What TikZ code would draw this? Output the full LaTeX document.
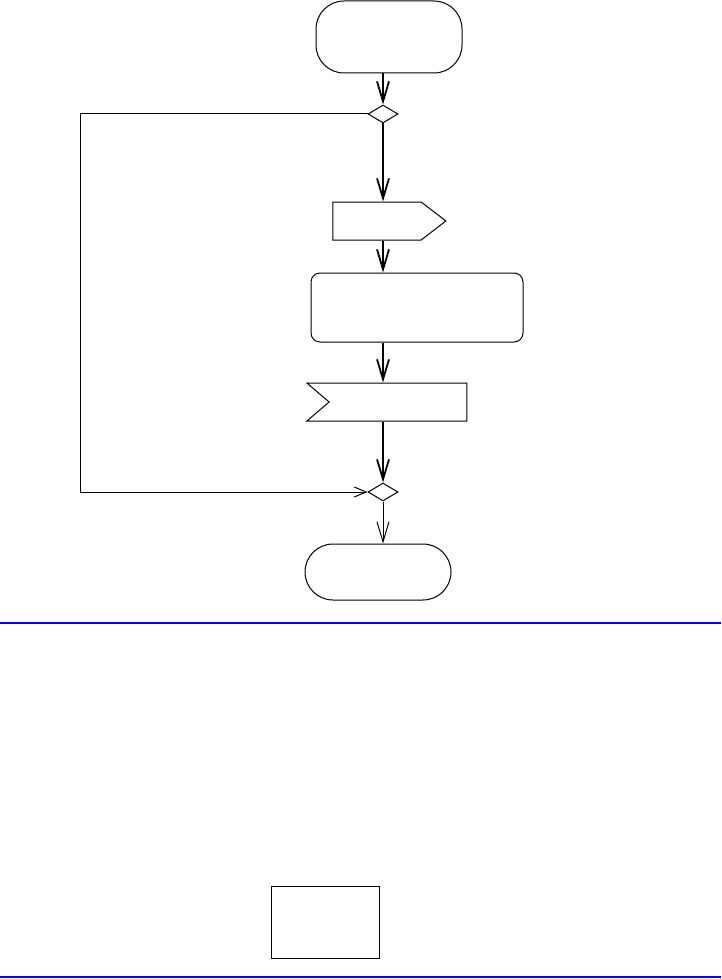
\documentclass[tikz,border=0pt]{standalone}
\usetikzlibrary{arrows.meta, positioning, shapes.geometric, shapes.symbols}

\begin{document}
\begin{tikzpicture}[
    x=1pt, y=-1pt,
    terminal/.style={draw, line width=1pt, rounded corners=28pt, minimum width=146pt, inner sep=0pt},
    decision/.style={draw, diamond, line width=1pt, minimum width=30pt, minimum height=18pt, inner sep=0pt},
    proc/.style={draw, line width=1pt, rounded corners=9pt, minimum width=212pt, minimum height=69pt, inner sep=0pt},
    sendbox/.style={draw, signal, signal to=east, signal pointer angle=75, line width=1pt,
                    minimum width=113pt, minimum height=38pt, inner sep=0pt},
    recvbox/.style={draw, signal, signal from=west, signal to=nowhere, signal pointer angle=81, line width=1pt,
                    minimum width=160pt, minimum height=38pt, inner sep=0pt},
    flow/.style={-{Straight Barb[length=20pt, width=12pt]}, line width=1.8pt},
    thinflow/.style={-{Straight Barb[length=20pt, width=12pt]}, line width=1pt},
    loopflow/.style={-{Straight Barb[length=12pt, width=10pt]}, line width=1pt},
    sepline/.style={blue, line width=2pt},
]
\useasboundingbox (0,0) rectangle (721,979);

% flow chart
\node[terminal, minimum height=72pt] (start) at (389,37) {};
\node[decision] (dec) at (383,114) {};
\node[sendbox] (send) at (377,221) {};
\node[proc] (work) at (417,307.5) {};
\node[recvbox] (recv) at (398,402) {};
\node[decision] (merge) at (383,492) {};
\node[terminal, minimum height=56pt] (stop) at (378,572) {};
\coordinate (loopL) at (80,114);

\draw[flow] (start.south -| dec.north) -- (dec.north);
\draw[flow] (dec.south) -- (dec.south |- send.north);
\draw[flow] (send.south -| dec.south) -- (dec.south |- work.north);
\draw[flow] (work.south -| dec.south) -- (dec.south |- recv.north);
\draw[flow] (recv.south -| dec.south) -- (merge.north);
\draw[thinflow] (merge.south) -- (merge.south |- stop.north);
\draw[loopflow] (dec.west) -- (loopL) |- (merge.west);

% lower part
\draw[sepline] (0,623) -- (721,623);
\node[draw, line width=1pt, minimum width=108pt, minimum height=72pt, inner sep=0pt] (box) at (325,922) {};
\draw[sepline] (0,977) -- (721,977);
\end{tikzpicture}
\end{document}
